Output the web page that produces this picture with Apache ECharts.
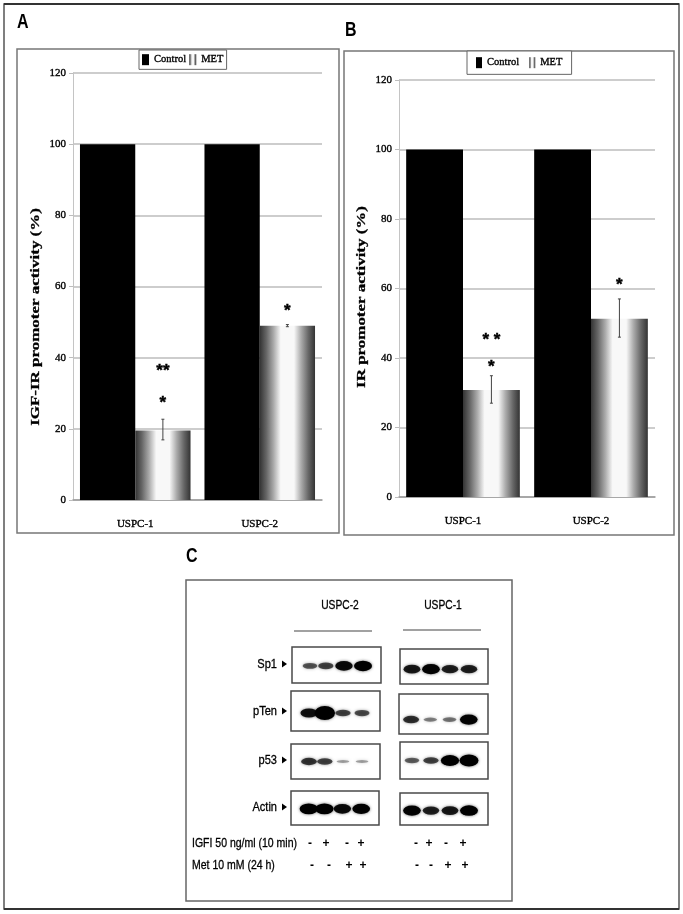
<!DOCTYPE html>
<html><head><meta charset="utf-8">
<style>html,body{margin:0;padding:0;background:#fff}#c{width:683px;height:914px;filter:blur(0.45px)}</style>
<script src="https://cdn.jsdelivr.net/npm/echarts@6/dist/echarts.min.js"></script>
</head><body><div id="c"></div>
<script>
const categories = ['USPC-1', 'USPC-2'];
const yTicks = [0, 20, 40, 60, 80, 100, 120];
const controlA = [100, 100];
const metA = [19.5, 49];
const metLowA = [16.9, 48.7];
const metHighA = [22.7, 49.3];
const starsA = [[0, 37.1, '**'], [0, 28, '*'], [1, 54, '*']];
const controlB = [100, 100];
const metB = [30.8, 51.3];
const metLowB = [27, 46];
const metHighB = [34.9, 57];
const starsB = [[0, 46, '* *'], [0, 38.3, '*'], [1, 61.7, '*']];
const blotRows = ['Sp1', 'pTen', 'p53', 'Actin'];
const sp1U2 = [0.45, 0.55, 0.9, 1];
const pTenU2 = [0.85, 1.4, 0.55, 0.5];
const p53U2 = [0.62, 0.55, 0.12, 0.12];
const actinU2 = [1.05, 1.05, 0.9, 0.95];
const sp1U1 = [0.8, 0.95, 0.75, 0.75];
const pTenU1 = [0.65, 0.25, 0.3, 0.95];
const p53U1 = [0.4, 0.55, 1.05, 1.15];
const actinU1 = [0.95, 0.75, 0.8, 1];
const lanesU2 = [1.01, 1.9, 2.92, 3.99];
const lanesU1 = [0.68, 1.76, 2.84, 3.92];
const igfSignsU2 = ['-', '+', '-', '+'];
const metSignsU2 = ['-', '-', '+', '+'];
const igfSignsU1 = ['-', '+', '-', '+'];
const metSignsU1 = ['-', '-', '+', '+'];

const SERIF = '"Liberation Serif", serif';
const SANS = '"Liberation Sans", sans-serif';
const metFill = {type:'linear',x:0,y:0,x2:1,y2:0,colorStops:[
 {offset:0,color:'#333'},{offset:.12,color:'#666'},{offset:.25,color:'#aaa'},{offset:.38,color:'#f8f8f8'},
 {offset:.62,color:'#f8f8f8'},{offset:.75,color:'#aaa'},{offset:.88,color:'#666'},{offset:1,color:'#333'}]};
const heavy = {textBorderColor:'#000',textBorderWidth:0.35};

const grids = [
 {left:73, top:73, width:249, height:427},
 {left:399, top:80, width:256, height:417}
];
const xAxes = [], yAxes = [], series = [];
[0,1].forEach(i=>{
 xAxes.push({gridIndex:i,type:'category',data:categories,
  axisLine:{lineStyle:{color:'#9a9a9a',width:1.5}},axisTick:{length:4,lineStyle:{color:'#9a9a9a'}},
  axisLabel:Object.assign({margin:19,color:'#000',fontFamily:SERIF,fontSize:11,fontWeight:'normal'},heavy)});
 yAxes.push({gridIndex:i,type:'value',min:0,max:120,interval:20,
  axisLine:{show:true,lineStyle:{color:'#c4c4c4',width:1}},axisTick:{show:true,length:4,lineStyle:{color:'#bdbdbd'}},
  splitLine:{lineStyle:{color:'#bdbdbd',width:1.5}},
  axisLabel:Object.assign({margin:7,color:'#000',fontFamily:SERIF,fontSize:11,fontWeight:'normal',
   formatter:v=>yTicks.includes(v)?String(v):''},heavy)});
});
function barPair(i, ctrl, met, lo, hi, stars){
 const w='44.4%';
 series.push({name:'Control',type:'bar',xAxisIndex:i,yAxisIndex:i,data:ctrl,barWidth:w,barGap:0,itemStyle:{color:'#000'}});
 series.push({name:'MET',type:'bar',xAxisIndex:i,yAxisIndex:i,data:met,barWidth:w,barGap:0,itemStyle:{color:metFill}});
 series.push({type:'custom',xAxisIndex:i,yAxisIndex:i,silent:true,z:5,
  data:categories.map((c,k)=>[k,lo[k],hi[k]]),
  renderItem(p,api){
   const off=api.size([1,0])[0]*0.222;
   const a=api.coord([api.value(0),api.value(1)]), b=api.coord([api.value(0),api.value(2)]);
   const x=a[0]+off, s={stroke:'#444',lineWidth:1};
   return {type:'group',children:[
    {type:'line',shape:{x1:x,y1:a[1],x2:x,y2:b[1]},style:s},
    {type:'line',shape:{x1:x-1.5,y1:a[1],x2:x+1.5,y2:a[1]},style:s},
    {type:'line',shape:{x1:x-1.5,y1:b[1],x2:x+1.5,y2:b[1]},style:s}]};
  }});
 series.push({type:'custom',xAxisIndex:i,yAxisIndex:i,silent:true,z:6,
  data:stars.map(d=>[d[0],d[1]]),
  renderItem(p,api){
   const off=api.size([1,0])[0]*0.222;
   const a=api.coord([api.value(0),api.value(1)]);
   return {type:'text',style:{x:a[0]+off,y:a[1]+3,text:stars[p.dataIndex][2],align:'center',verticalAlign:'middle',
    font:'bold 17px '+SANS,fill:'#000',stroke:'#000',lineWidth:0.4}};
  }});
}
barPair(0,controlA,metA,metLowA,metHighA,starsA);
barPair(1,controlB,metB,metLowB,metHighB,starsB);

// western blot panels: each blot frame is a grid, bands come from the signal arrays
const blots = [
 {s:sp1U2, l:lanesU2, g:[292,647,89,36], o:-0.05},
 {s:pTenU2,l:lanesU2, g:[291,691,89,40], o:-0.1},
 {s:p53U2, l:lanesU2, g:[291,744,89,35], o:0},
 {s:actinU2,l:lanesU2,g:[291,791,88,34], o:-0.05},
 {s:sp1U1, l:lanesU1, g:[400,649,88,35], o:-0.15},
 {s:pTenU1,l:lanesU1, g:[399,694,89,40], o:-0.28},
 {s:p53U1, l:lanesU1, g:[400,742,88,37], o:0},
 {s:actinU1,l:lanesU1,g:[400,793,88,32], o:-0.1}
];
blots.forEach((b,n)=>{
 const gi=2+n;
 grids.push({left:b.g[0],top:b.g[1],width:b.g[2],height:b.g[3],show:true,borderColor:'#4a4a4a',borderWidth:1.5,backgroundColor:'#fff'});
 xAxes.push({gridIndex:gi,type:'value',min:0,max:5,show:false});
 yAxes.push({gridIndex:gi,type:'value',min:-1,max:1,show:false});
 series.push({type:'scatter',xAxisIndex:gi,yAxisIndex:gi,silent:true,
  data:b.s.map((v,k)=>({value:[b.l[k],b.o,v],itemStyle:{opacity:Math.min(1,.22+.8*v)}})),
  symbol:'circle',
  symbolSize:d=>[12+6*d[2],2+8.5*d[2]],
  itemStyle:{color:'#000',shadowBlur:3,shadowColor:'rgba(0,0,0,.6)'}});
});

function tx(x,y,text,font,align,sx,extra,weight){return Object.assign({type:'text',silent:true,z:20,x,y,scaleX:sx||1,
 style:{text,font,fill:'#000',align:align||'left',verticalAlign:'middle',stroke:'#000',lineWidth:weight||0}},extra||{});}
function box(x,y,w,h,stroke,lw,z){return {type:'rect',silent:true,z:z||0,shape:{x,y,width:w,height:h},style:{fill:null,stroke,lineWidth:lw}};}
const gfx=[
 box(4,4,675,905,'#555',1.5),
 {type:'line',silent:true,shape:{x1:4,y1:4,x2:679,y2:4},style:{stroke:'#333',lineWidth:2}},
 {type:'line',silent:true,shape:{x1:4,y1:909,x2:679,y2:909},style:{stroke:'#333',lineWidth:2}},
 box(17,49,322,484,'#777',1.5),
 box(344,51,330,484,'#777',1.5),
 box(186,580,326,321,'#666',1.5),
 tx(17,22,'A','bold 20px '+SANS,'left',.8),
 tx(345,30,'B','bold 20px '+SANS,'left',.8),
 tx(186,556,'C','bold 20px '+SANS,'left',.8),
 tx(36,317,'IGF-IR promoter activity (%)','bold 13.5px '+SERIF,'center',1.256,{rotation:Math.PI/2},.3),
 tx(362,297,'IR promoter activity (%)','bold 13.5px '+SERIF,'center',1.256,{rotation:Math.PI/2},.3),
 tx(340,606,'USPC-2','12.5px '+SANS,'center',.82,null,.3),
 tx(443,606,'USPC-1','12.5px '+SANS,'center',.82,null,.3),
 {type:'line',silent:true,shape:{x1:294,y1:631,x2:372,y2:631},style:{stroke:'#444',lineWidth:1.2}},
 {type:'line',silent:true,shape:{x1:403,y1:630,x2:481,y2:630},style:{stroke:'#444',lineWidth:1.2}},
 tx(192,844,'IGFI 50 ng/ml (10 min)','12.5px '+SANS,'left',.84,null,.3),
 tx(192,866,'Met 10 mM (24 h)','12.5px '+SANS,'left',.84,null,.3)
];
const rowY=[664,711,760,807];
blotRows.forEach((r,i)=>{
 gfx.push(tx(277,rowY[i],r,'13px '+SANS,'right',.85,null,.3));
 gfx.push({type:'polygon',silent:true,z:20,shape:{points:[[282,rowY[i]-3.5],[282,rowY[i]+3.5],[287,rowY[i]]]},style:{fill:'#000'}});
});
function signs(arr,xs,y){arr.forEach((s,i)=>gfx.push(tx(xs[i],y,s,'bold 12px '+SANS,'center')));}
signs(igfSignsU2,[310,326,347,361],844);
signs(metSignsU2,[312,329,349,363],866);
signs(igfSignsU1,[416,429,446,463],844);
signs(metSignsU1,[417,431,448,465],866);

const chart=echarts.init(document.getElementById('c'),null,{renderer:'canvas'});
const legendBase={selectedMode:false,orient:'horizontal',data:['Control','MET'],icon:'rect',backgroundColor:'#fff',
 borderColor:'#666',borderWidth:1,itemHeight:11,
 textStyle:Object.assign({fontFamily:SERIF,fontSize:10.5,fontWeight:'normal',color:'#000'},heavy)};
chart.setOption({
 animation:false,backgroundColor:'#fff',
 legend:[
  Object.assign({},legendBase,{left:139,top:50,itemWidth:7,itemGap:3,padding:[4,3]}),
  Object.assign({},legendBase,{left:467,top:51,itemWidth:6,itemGap:10,padding:[6,9]})
 ],
 grid:grids,xAxis:xAxes,yAxis:yAxes,series,graphic:{elements:gfx}
});
</script></body></html>
